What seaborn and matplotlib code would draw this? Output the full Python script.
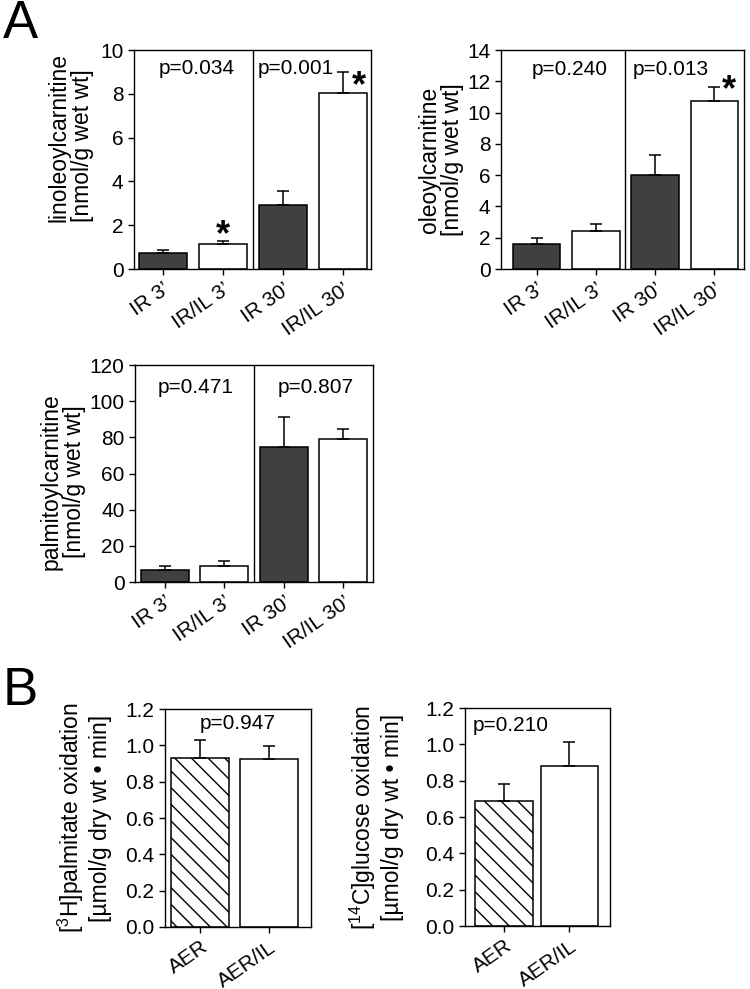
import numpy as np
import pandas as pd
import matplotlib
matplotlib.use("Agg")
import matplotlib.pyplot as plt
import seaborn as sns
from matplotlib.ticker import FormatStrFormatter

# ---- data ----
groups_a = ["IR 3\u2019", "IR/IL 3\u2019", "IR 30\u2019", "IR/IL 30\u2019"]
colors_a = ["#404040", "white", "#404040", "white"]

lino_mean = [0.73, 1.14, 2.91, 8.05]
lino_sem = [0.15, 0.13, 0.67, 0.95]
lino_p = ["p=0.034", "p=0.001"]

oleo_mean = [1.62, 2.45, 6.04, 10.77]
oleo_sem = [0.38, 0.45, 1.26, 0.88]
oleo_p = ["p=0.240", "p=0.013"]

palm_mean = [6.6, 9.0, 74.5, 78.9]
palm_sem = [2.1, 2.4, 16.9, 5.9]
palm_p = ["p=0.471", "p=0.807"]

groups_b = ["AER", "AER/IL"]
palmox_mean = [0.932, 0.923]
palmox_sem = [0.100, 0.072]
palmox_p = "p=0.947"

glucox_mean = [0.686, 0.882]
glucox_sem = [0.097, 0.133]
glucox_p = "p=0.210"

TICK_FS = 15
P_FS = 15
LABEL_FS = 16.5


def setup_plotting():
    sns.set_theme(style="ticks")
    plt.rcParams["font.family"] = ["Liberation Sans", "DejaVu Sans"]
    plt.rcParams["mathtext.default"] = "regular"
    plt.rcParams["hatch.linewidth"] = 1.0
    plt.rcParams["axes.linewidth"] = 1.0
    plt.rcParams["axes.edgecolor"] = "black"
    plt.rcParams["axes.labelcolor"] = "black"
    plt.rcParams["text.color"] = "black"
    plt.rcParams["xtick.color"] = "black"
    plt.rcParams["ytick.color"] = "black"


def draw_bars(ax, labels, means, sems, colors, width, xlim, ylim, yticks):
    df = pd.DataFrame({"group": labels, "value": means})
    sns.barplot(data=df, x="group", y="value", hue="group", order=labels,
                palette=colors, legend=False, width=width, saturation=1,
                edgecolor="black", linewidth=1.1, ax=ax)
    n = len(labels)
    ax.errorbar(np.arange(n), means, yerr=[np.zeros(n), sems], fmt="none",
                ecolor="black", elinewidth=1.1, capsize=4, capthick=1.1)
    ax.set_xlim(*xlim)
    ax.set_ylim(*ylim)
    ax.set_yticks(yticks)
    ax.set_xlabel("")
    ax.tick_params(axis="both", labelsize=TICK_FS, length=4, width=1,
                   direction="out", colors="black")
    for lab in ax.get_xticklabels():
        lab.set_rotation(35)
        lab.set_ha("right")
        lab.set_rotation_mode("anchor")
    for s in ax.spines.values():
        s.set_visible(True)
        s.set_linewidth(1.0)


def set_label(ax, text, xc, yc, malign="center", spacing=1.0):
    ax.set_ylabel(text, fontsize=LABEL_FS, linespacing=spacing, multialignment=malign)
    ax.yaxis.set_label_coords(xc, yc)


def star(ax, x, y):
    ax.text(x, y, "*", ha="center", va="center", fontsize=26, fontweight="bold")


setup_plotting()
fig = plt.figure(figsize=(7.5, 9.89), dpi=100)

# panel A: linoleoylcarnitine
ax1 = fig.add_axes([0.1787, 0.728, 0.316, 0.2214])
draw_bars(ax1, groups_a, lino_mean, lino_sem, colors_a, 0.8, (-0.48, 3.47), (0, 10), range(0, 11, 2))
ax1.axvline(1.5, color="black", lw=1.0)
set_label(ax1, "linoleoylcarnitine\n[nmol/g wet wt]", -0.17, 0.6, "left")
ax1.text(0.57, 9.15, lino_p[0], ha="center", va="center", fontsize=P_FS)
ax1.text(2.22, 9.15, lino_p[1], ha="center", va="center", fontsize=P_FS)
star(ax1, 1.0, 1.5)
star(ax1, 3.27, 8.35)

# panel A: oleoylcarnitine
ax2 = fig.add_axes([0.668, 0.728, 0.324, 0.2214])
draw_bars(ax2, groups_a, oleo_mean, oleo_sem, colors_a, 0.8, (-0.6, 3.5), (0, 14), range(0, 15, 2))
ax2.axvline(1.5, color="black", lw=1.0)
set_label(ax2, "oleoylcarnitine\n[nmol/g wet wt]", -0.152, 0.5)
ax2.text(0.56, 12.75, oleo_p[0], ha="center", va="center", fontsize=P_FS)
ax2.text(2.26, 12.75, oleo_p[1], ha="center", va="center", fontsize=P_FS)
star(ax2, 3.25, 11.4)

# panel A: palmitoylcarnitine
ax3 = fig.add_axes([0.18, 0.4115, 0.3173, 0.2194])
draw_bars(ax3, groups_a, palm_mean, palm_sem, colors_a, 0.8, (-0.5, 3.5), (0, 120), range(0, 121, 20))
ax3.axvline(1.5, color="black", lw=1.0)
set_label(ax3, "palmitoylcarnitine\n[nmol/g wet wt]", -0.206, 0.465)
ax3.text(0.52, 107.5, palm_p[0], ha="center", va="center", fontsize=P_FS)
ax3.text(2.53, 107.5, palm_p[1], ha="center", va="center", fontsize=P_FS)

# panel B: palmitate oxidation
ax4 = fig.add_axes([0.22, 0.0627, 0.1947, 0.2204])
draw_bars(ax4, groups_b, palmox_mean, palmox_sem, ["white", "white"], 0.85, (-0.52, 1.62), (0, 1.2), np.arange(0, 1.21, 0.2))
ax4.patches[0].set_hatch("\\\\")
ax4.yaxis.set_major_formatter(FormatStrFormatter("%.1f"))
set_label(ax4, "[$^3$H]palmitate oxidation\n[\u00b5mol/g dry wt \u2022 min]", -0.363, 0.5, spacing=1.15)
ax4.text(0.54, 1.12, palmox_p, ha="center", va="center", fontsize=P_FS)

# panel B: glucose oxidation
ax5 = fig.add_axes([0.62, 0.0637, 0.1933, 0.2204])
draw_bars(ax5, groups_b, glucox_mean, glucox_sem, ["white", "white"], 0.88, (-0.6, 1.62), (0, 1.2), np.arange(0, 1.21, 0.2))
ax5.patches[0].set_hatch("\\\\")
ax5.yaxis.set_major_formatter(FormatStrFormatter("%.1f"))
set_label(ax5, "[$^{14}$C]glucose oxidation\n[\u00b5mol/g dry wt \u2022 min]", -0.42, 0.5, spacing=1.15)
ax5.text(0.1, 1.105, glucox_p, ha="center", va="center", fontsize=P_FS)

fig.text(0.004, 0.9616, "A", fontsize=38, va="baseline", ha="left")
fig.text(0.003, 0.2872, "B", fontsize=38, va="baseline", ha="left")

fig.savefig("out.png", dpi=100)
plt.close(fig)
